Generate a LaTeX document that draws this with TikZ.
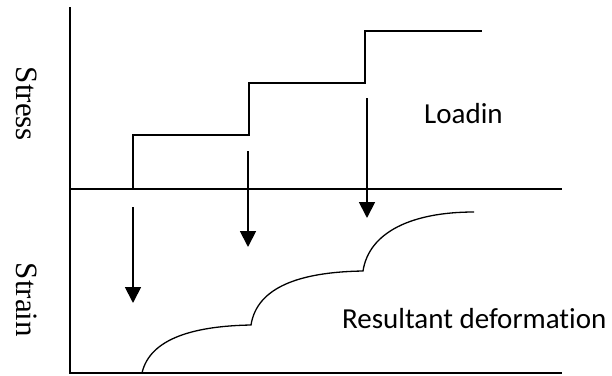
\documentclass[tikz,border=0pt]{standalone}
\usepackage{fontspec}
\setmainfont{Liberation Serif}
\newfontfamily\labelfont[Ligatures={NoCommon,NoDiscretionary}]{Carlito}
\usetikzlibrary{arrows.meta}
\tikzset{
  axis/.style={line width=1.6pt},
  stepline/.style={line width=1.6pt},
  loadarrow/.style={line width=1.8pt,-{Triangle[length=16pt,width=16pt]}},
  strainline/.style={line width=1.3pt},
  axislabel/.style={rotate=-90,font=\fontsize{31}{33}\selectfont,inner sep=0pt},
  textlabel/.style={font=\labelfont\fontsize{29}{31}\selectfont,inner sep=0pt}
}
\begin{document}
\begin{tikzpicture}[x=1pt,y=-1pt]
  \useasboundingbox (0,0) rectangle (612,375);
  % axes: stress on top, strain below
  \coordinate (sTop) at (70,7);
  \coordinate (o1) at (70,189);
  \coordinate (s1End) at (562,189);
  \coordinate (o2) at (70,373);
  \coordinate (s2End) at (562,373);
  \draw[axis] (sTop) -- (o1) -- (s1End);
  \draw[axis] (o1) -- (o2) -- (s2End);
  % stepwise loading
  \coordinate (p0) at (133,189);
  \coordinate (p1) at (133,135);
  \coordinate (p2) at (249,135);
  \coordinate (p3) at (249,83);
  \coordinate (p4) at (365,83);
  \coordinate (p5) at (365,31);
  \coordinate (p6) at (482,31);
  \draw[stepline] (p0) -- (p1) -- (p2) -- (p3) -- (p4) -- (p5) -- (p6);
  % load arrows
  \coordinate (a1s) at (133,207);
  \coordinate (a1e) at (133,303);
  \coordinate (a2s) at (248,151);
  \coordinate (a2e) at (248,247);
  \coordinate (a3s) at (367,98);
  \coordinate (a3e) at (367,218);
  \draw[loadarrow] (a1s) -- (a1e);
  \draw[loadarrow] (a2s) -- (a2e);
  \draw[loadarrow] (a3s) -- (a3e);
  % resultant strain response
  \coordinate (c0) at (142,373);
  \coordinate (c1) at (251,325);
  \coordinate (c2) at (363,271);
  \coordinate (c3) at (474,212);
  \draw[strainline] (c0) .. controls (150,338) and (195,326) .. (c1)
    .. controls (257,287) and (300,272) .. (c2)
    .. controls (369,232) and (412,212) .. (c3);
  % labels
  \node[axislabel] (stress) at (27,104) {Stress};
  \node[axislabel] (strain) at (27,300) {Strain};
  \node[textlabel,anchor=base west] (loadin) at (424,123) {Loadin};
  \node[textlabel,anchor=base west] (result) at (342,328) {Resultant deformation};
\end{tikzpicture}
\end{document}
